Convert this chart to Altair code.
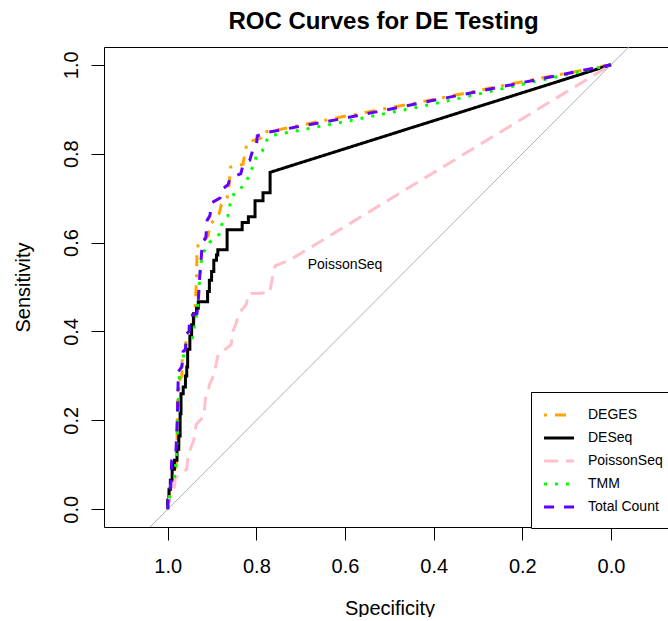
import altair as alt
import pandas as pd

methods = ["DEGES", "DESeq", "PoissonSeq", "TMM", "Total Count"]
colors = ["#FFA500", "#000000", "#FFC0CB", "#00FF00", "#6200FF"]
dashes = [[3, 8, 11, 8], [1, 0], [14, 8], [3, 8], [10, 10]]

deges_spec = [1.000, 0.997, 0.997, 0.990, 0.988, 0.981, 0.979, 0.978, 0.977, 0.976, 0.968, 0.967,
              0.960, 0.958, 0.942, 0.939, 0.937, 0.935, 0.934, 0.931, 0.909, 0.904, 0.884, 0.879,
              0.866, 0.861, 0.858, 0.830, 0.826, 0.821, 0.790, 0.787, 0.760, 0.600, 0.400, 0.200, 0.000]
deges_sens = [0.000, 0.020, 0.040, 0.050, 0.085, 0.095, 0.140, 0.220, 0.270, 0.285, 0.300, 0.345,
              0.355, 0.395, 0.405, 0.445, 0.475, 0.520, 0.570, 0.600, 0.615, 0.640, 0.665, 0.685,
              0.700, 0.735, 0.770, 0.776, 0.800, 0.825, 0.835, 0.848, 0.852, 0.884, 0.922, 0.962, 1.000]

deseq_spec = [1.000, 1.000, 0.997, 0.997, 0.994, 0.994, 0.990, 0.990, 0.985, 0.985, 0.979, 0.979,
              0.975, 0.975, 0.972, 0.972, 0.970, 0.970, 0.965, 0.965, 0.960, 0.960, 0.957, 0.957,
              0.955, 0.955, 0.950, 0.950, 0.946, 0.946, 0.942, 0.942, 0.935, 0.935, 0.931, 0.931,
              0.910, 0.910, 0.906, 0.906, 0.901, 0.901, 0.896, 0.896, 0.890, 0.890, 0.887, 0.887,
              0.866, 0.866, 0.832, 0.832, 0.818, 0.818, 0.803, 0.803, 0.785, 0.785, 0.769, 0.769,
              0.000]
deseq_sens = [0.000, 0.020, 0.020, 0.045, 0.045, 0.065, 0.065, 0.090, 0.090, 0.110, 0.110, 0.135,
              0.135, 0.165, 0.165, 0.215, 0.215, 0.260, 0.260, 0.275, 0.275, 0.300, 0.300, 0.320,
              0.320, 0.360, 0.360, 0.390, 0.390, 0.415, 0.415, 0.440, 0.440, 0.452, 0.452, 0.467,
              0.467, 0.490, 0.490, 0.515, 0.515, 0.535, 0.535, 0.560, 0.560, 0.572, 0.572, 0.584,
              0.584, 0.629, 0.629, 0.645, 0.645, 0.658, 0.658, 0.694, 0.694, 0.712, 0.712, 0.758,
              1.000]

poisson_spec = [1.000, 0.995, 0.985, 0.983, 0.957, 0.954, 0.940, 0.936, 0.918, 0.915, 0.909, 0.906,
                0.897, 0.890, 0.886, 0.870, 0.857, 0.853, 0.845, 0.840, 0.823, 0.818, 0.770, 0.762,
                0.757, 0.724, 0.000]
poisson_sens = [0.000, 0.030, 0.050, 0.070, 0.090, 0.120, 0.160, 0.190, 0.210, 0.250, 0.260, 0.280,
                0.300, 0.330, 0.350, 0.360, 0.370, 0.400, 0.420, 0.440, 0.460, 0.485, 0.487, 0.530,
                0.548, 0.561, 1.000]

tmm_spec = [1.000, 0.995, 0.994, 0.985, 0.981, 0.978, 0.976, 0.974, 0.967, 0.960, 0.945, 0.940,
            0.936, 0.931, 0.928, 0.926, 0.918, 0.906, 0.882, 0.877, 0.864, 0.861, 0.855, 0.848,
            0.832, 0.821, 0.814, 0.805, 0.800, 0.787, 0.780, 0.770, 0.600, 0.400, 0.200, 0.000]
tmm_sens = [0.000, 0.030, 0.060, 0.070, 0.110, 0.180, 0.240, 0.300, 0.330, 0.370, 0.380, 0.410,
            0.430, 0.470, 0.520, 0.550, 0.580, 0.600, 0.620, 0.645, 0.660, 0.680, 0.700, 0.715,
            0.725, 0.740, 0.760, 0.775, 0.795, 0.805, 0.825, 0.840, 0.872, 0.912, 0.956, 1.000]

total_spec = [1.000, 0.998, 0.993, 0.991, 0.982, 0.980, 0.978, 0.977, 0.976, 0.968, 0.965, 0.960,
              0.957, 0.952, 0.950, 0.934, 0.931, 0.928, 0.924, 0.922, 0.914, 0.911, 0.905, 0.900,
              0.882, 0.877, 0.864, 0.859, 0.835, 0.830, 0.815, 0.809, 0.800, 0.798, 0.775, 0.600,
              0.400, 0.200, 0.000]
total_sens = [0.000, 0.040, 0.050, 0.110, 0.120, 0.160, 0.215, 0.260, 0.310, 0.320, 0.355, 0.360,
              0.395, 0.400, 0.435, 0.440, 0.470, 0.520, 0.570, 0.600, 0.610, 0.650, 0.660, 0.690,
              0.700, 0.720, 0.730, 0.745, 0.755, 0.775, 0.785, 0.805, 0.815, 0.840, 0.848, 0.880,
              0.920, 0.960, 1.000]

diag_spec = [1.2, -0.2]
diag_sens = [-0.2, 1.2]

label_text = ["PoissonSeq"]
label_spec = [0.6]
label_sens = [0.55]

curves = {
    "DEGES": (deges_spec, deges_sens),
    "DESeq": (deseq_spec, deseq_sens),
    "PoissonSeq": (poisson_spec, poisson_sens),
    "TMM": (tmm_spec, tmm_sens),
    "Total Count": (total_spec, total_sens),
}
rows = []
for m in methods:
    sp, se = curves[m]
    for i, (a, b) in enumerate(zip(sp, se)):
        rows.append({"method": m, "order": i, "spec": a, "sens": b})
df = pd.DataFrame(rows)
diag_df = pd.DataFrame({"spec": diag_spec, "sens": diag_sens})
label_df = pd.DataFrame({"text": label_text, "spec": label_spec, "sens": label_sens})

FONT = "Liberation Sans"
xscale = alt.Scale(domain=[1.1437, -0.1286], nice=False, zero=False)
yscale = alt.Scale(domain=[-0.04, 1.04], nice=False, zero=False)
ticks = [1.0, 0.8, 0.6, 0.4, 0.2, 0.0]

yaxis = alt.Axis(values=ticks, format=".1f", title="Sensitivity",
                 labelAngle=270, labelAlign="center", labelBaseline="alphabetic", labelPadding=14,
                 titleAngle=270, titleBaseline="alphabetic", titleX=-75, titleY=240,
                 titleAlign="center")

leg = alt.Legend(
    title=None, orient="none", legendX=427, legendY=345,
    strokeColor="black", fillColor="white", padding=14, cornerRadius=0,
    symbolType="M-1.33,0H2.67", symbolSize=225, symbolStrokeWidth=3,
    labelFont=FONT, labelFontSize=14, labelColor="black", labelOffset=25,
    rowPadding=7, labelLimit=0,
)

diag = alt.Chart(diag_df).mark_line(color="#B0B0B0", strokeWidth=1, clip=True).encode(
    x=alt.X("spec:Q", scale=xscale,
            axis=alt.Axis(orient="top", labels=False, ticks=False, title=None, domain=True, grid=False)),
    y=alt.Y("sens:Q", scale=yscale, axis=yaxis),
)

lines = alt.Chart(df).mark_line(strokeWidth=3, clip=True).encode(
    x=alt.X("spec:Q", scale=xscale,
            axis=alt.Axis(values=ticks, format=".1f", title="Specificity",
                          labelBaseline="alphabetic", labelPadding=32,
                          titleBaseline="alphabetic", titleY=87, titleX=285.5, titleAlign="center")),
    y=alt.Y("sens:Q", scale=yscale, axis=yaxis),
    color=alt.Color("method:N", scale=alt.Scale(domain=methods, range=colors), legend=leg),
    strokeDash=alt.StrokeDash("method:N", scale=alt.Scale(domain=methods, range=dashes), legend=leg),
    order=alt.Order("order:Q"),
)

text = alt.Chart(label_df).mark_text(font=FONT, fontSize=14, color="black").encode(
    x=alt.X("spec:Q", scale=xscale, axis=None),
    y=alt.Y("sens:Q", scale=yscale, axis=yaxis),
    text="text:N",
)

chart = alt.layer(diag, lines, text).resolve_axis(x="independent").properties(
    width=564, height=480,
    autosize=alt.AutoSizeParams(type="none"),
    padding={"left": 104, "top": 47, "right": 0, "bottom": 90},
    title=alt.TitleParams("ROC Curves for DE Testing", font=FONT, fontSize=24, fontWeight="bold",
                          anchor="middle", frame="group", baseline="alphabetic", offset=19, dx=-2.5,
                          dy=25, color="black"),
).configure_view(stroke=None).configure_axis(
    domainColor="black", tickColor="black", labelColor="black", titleColor="black",
    labelFont=FONT, titleFont=FONT, labelFontSize=20, titleFontSize=20, titleFontWeight="normal",
    tickSize=13, grid=False, domainWidth=1, tickWidth=1,
)

chart.save("out.html", embed_options={"renderer": "svg", "actions": False})
